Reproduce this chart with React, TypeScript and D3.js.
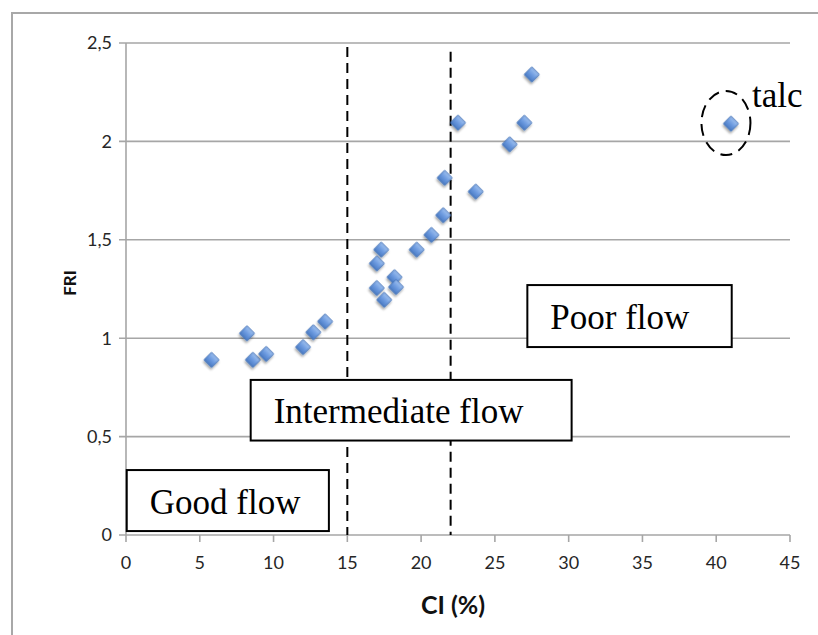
import React from "react";
import * as d3 from "d3";

const ciValues = [5.8, 8.2, 8.6, 9.5, 12.0, 12.7, 13.5, 17.3, 17.0, 17.0, 17.5, 18.2, 18.3, 19.7, 20.7, 21.5, 21.6, 22.5, 23.7, 26.0, 27.0, 27.5, 41.0];
const friValues = [0.89, 1.025, 0.89, 0.92, 0.955, 1.03, 1.085, 1.45, 1.38, 1.255, 1.195, 1.31, 1.26, 1.45, 1.525, 1.625, 1.815, 2.095, 1.745, 1.985, 2.095, 2.34, 2.09];

const xTicks = [0, 5, 10, 15, 20, 25, 30, 35, 40, 45];
const yTicks = [0, 0.5, 1, 1.5, 2, 2.5];
const yTickLabels = ["0", "0,5", "1", "1,5", "2", "2,5"];

const boundaryCI = [15, 22];
const boundaryTop = [2.48, 2.455];

const boxLabels = ["Good flow", "Intermediate flow", "Poor flow"];
const boxX0 = [0.05, 8.45, 27.2];
const boxX1 = [13.75, 30.2, 41.05];
const boxY0 = [0.02, 0.48, 0.955];
const boxY1 = [0.33, 0.788, 1.27];

const W = 818;
const H = 635;

export default function App() {
  const x = d3.scaleLinear().domain([0, 45]).range([126, 790]);
  const y = d3.scaleLinear().domain([0, 2.5]).range([535, 43]);
  const diamond = d3.symbol().type(d3.symbolSquare).size(112)() as string;
  const pts = ciValues.map((c, i) => ({ c, f: friValues[i] }));
  const grid = "#a6a6a6";
  const tickFont = "Lato, 'Open Sans', sans-serif";
  const serif = "'Liberation Serif', 'DejaVu Serif', serif";

  return (
    <svg width={W} height={H} style={{ position: "absolute", left: 0, top: 0, background: "#fff" }}>
      <defs>
        <linearGradient id="dg" x1="0" y1="0" x2="0" y2="1">
          <stop offset="0" stopColor="#9ec0ee" />
          <stop offset="0.5" stopColor="#6d9be0" />
          <stop offset="1" stopColor="#4a7bc4" />
        </linearGradient>
        <filter id="sh" x="-50%" y="-50%" width="200%" height="200%">
          <feDropShadow dx="1" dy="2" stdDeviation="1.3" floodColor="#000" floodOpacity="0.35" />
        </filter>
      </defs>
      {/* outer frame */}
      <path d={`M12,${H} L12,13 L${W},13`} fill="none" stroke="#a8a8a8" strokeWidth={2} />
      {/* gridlines */}
      {yTicks.map((t) => (
        <line key={"g" + t} x1={x(0) - 7} x2={x(45)} y1={y(t)} y2={y(t)} stroke={grid} strokeWidth={1.6} />
      ))}
      {/* y axis */}
      <line x1={x(0)} x2={x(0)} y1={y(0)} y2={y(2.5)} stroke={grid} strokeWidth={1.6} />
      {/* x ticks */}
      {xTicks.map((t) => (
        <line key={"xt" + t} x1={x(t)} x2={x(t)} y1={y(0)} y2={y(0) + 7} stroke={grid} strokeWidth={1.6} />
      ))}
      {yTicks.map((t, i) => (
        <text key={"yl" + t} x={x(0) - 14} y={y(t)} dy="0.35em" textAnchor="end" fontFamily={tickFont} fontSize={18} fill="#262626">
          {yTickLabels[i]}
        </text>
      ))}
      {xTicks.map((t) => (
        <text key={"xl" + t} x={x(t)} y={y(0) + 34} textAnchor="middle" fontFamily={tickFont} fontSize={18} fill="#262626">
          {t}
        </text>
      ))}
      <text x={(x(0) + x(45)) / 2 - 5} y={614} textAnchor="middle" fontFamily={tickFont} fontSize={25} fontWeight="bold" fill="#111">
        CI (%)
      </text>
      <text transform={`translate(76,${(y(0) + y(2.5)) / 2 - 6}) rotate(-90)`} textAnchor="middle" fontFamily={tickFont} fontSize={17} fontWeight="bold" fill="#111">
        FRI
      </text>
      {/* boundary dashed lines */}
      {boundaryCI.map((c, i) => (
        <line key={"b" + c} x1={x(c)} x2={x(c)} y1={y(boundaryTop[i])} y2={y(0)} stroke="#000" strokeWidth={2} strokeDasharray="10 6" />
      ))}
      {/* points */}
      {pts.map((p, i) => (
        <path key={"p" + i} d={diamond} transform={`translate(${x(p.c)},${y(p.f)}) rotate(45)`} fill="url(#dg)" stroke="#4272b8" strokeWidth={0.8} filter="url(#sh)" />
      ))}
      {/* boxes */}
      {boxLabels.map((lab, i) => (
        <g key={lab}>
          <rect x={x(boxX0[i])} y={y(boxY1[i])} width={x(boxX1[i]) - x(boxX0[i])} height={y(boxY0[i]) - y(boxY1[i])} fill="#fff" stroke="#000" strokeWidth={2} />
          <text x={x(boxX0[i]) + 23} y={(y(boxY0[i]) + y(boxY1[i])) / 2 + 13} textAnchor="start" fontFamily={serif} fontSize={35} fill="#000">
            {lab}
          </text>
        </g>
      ))}
      {/* talc annotation */}
      <ellipse cx={x(40.66)} cy={y(2.093)} rx={24.5} ry={32} fill="none" stroke="#000" strokeWidth={2} strokeDasharray="12 7" />
      <text x={752} y={107} fontFamily={serif} fontSize={35} fill="#000">talc</text>
    </svg>
  );
}
